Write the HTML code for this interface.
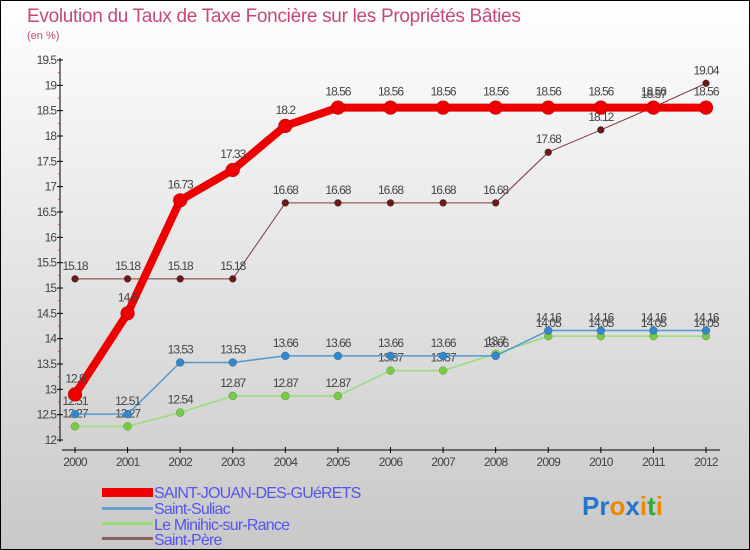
<!DOCTYPE html>
<html><head><meta charset="utf-8"><style>
body{margin:0;width:750px;height:550px;overflow:hidden}
svg{display:block;font-family:"Liberation Sans",sans-serif}
</style></head><body>
<svg width="750" height="550" id="c">
<defs><linearGradient id="bg" x1="0" y1="0" x2="0" y2="1"><stop offset="0" stop-color="#ffffff"/><stop offset="1" stop-color="#c8c8c8"/></linearGradient></defs>
<rect x="0.5" y="0.5" width="749" height="549" fill="url(#bg)" stroke="#000"/>
<text x="27" y="22" font-size="19" fill="#c8477a" letter-spacing="-0.3">Evolution du Taux de Taxe Foncière sur les Propriétés Bâties</text>
<text x="27" y="39" font-size="11" fill="#c8477a">(en %)</text>
<g id="axes"></g><g id="series"></g>
<g>
<rect x="102" y="488" width="51" height="9" fill="#ee0000"/>
<text x="154" y="498" font-size="16" fill="#5555ee" letter-spacing="-0.8">SAINT-JOUAN-DES-GUéRETS</text>
<rect x="102" y="507" width="51" height="3" fill="#6aa0cc"/>
<text x="154" y="514" font-size="16" fill="#5555ee" letter-spacing="-0.8">Saint-Suliac</text>
<rect x="102" y="522" width="51" height="3" fill="#99dd77"/>
<text x="154" y="530" font-size="16" fill="#5555ee" letter-spacing="-0.8">Le Minihic-sur-Rance</text>
<rect x="102" y="537" width="51" height="3" fill="#8b6060"/>
<text x="154" y="545" font-size="16" fill="#5555ee" letter-spacing="-0.8">Saint-Père</text>
</g>
<text x="582" y="515" font-size="26" font-weight="bold"><tspan fill="#2277cc">Pr</tspan><tspan fill="#ee8800">o</tspan><tspan fill="#2277cc">x</tspan><tspan fill="#ee8800">i</tspan><tspan fill="#33aa33">t</tspan><tspan fill="#ee8800">i</tspan></text>
</svg>
<script>
const years=["2000","2001","2002","2003","2004","2005","2006","2007","2008","2009","2010","2011","2012"];
const yTicks=[12,12.5,13,13.5,14,14.5,15,15.5,16,16.5,17,17.5,18,18.5,19,19.5];
const sjValues=[12.9,14.5,16.73,17.33,18.2,18.56,18.56,18.56,18.56,18.56,18.56,18.56,18.56];
const suliacValues=[12.51,12.51,13.53,13.53,13.66,13.66,13.66,13.66,13.66,14.16,14.16,14.16,14.16];
const minihicValues=[12.27,12.27,12.54,12.87,12.87,12.87,13.37,13.37,13.7,14.05,14.05,14.05,14.05];
const pereValues=[15.18,15.18,15.18,15.18,16.68,16.68,16.68,16.68,16.68,17.68,18.12,18.57,19.04];
const NS="http://www.w3.org/2000/svg";
const X=i=>75+i*(706-75)/12, Y=v=>440-(v-12)*(380/7.5);
function mk(t,a,p){const e=document.createElementNS(NS,t);for(const k in a)e.setAttribute(k,a[k]);p.appendChild(e);return e;}
const ax=document.getElementById('axes'),sg=document.getElementById('series');
let yl=mk('line',{x1:60,y1:58,x2:60,y2:442,stroke:'#000'},ax);


for(let v=12;v<=19.5;v+=0.25){const major=Math.abs(v*2-Math.round(v*2))<1e-6;
 mk('line',{x1:major?57:58,y1:Y(v),x2:major?63:60,y2:Y(v),stroke:major?'#000':'#dd3333'},ax);}
yTicks.forEach(v=>{const t=mk('text',{x:56,y:Y(v)+4,'font-size':12,fill:'#444','text-anchor':'end','letter-spacing':'-1'},ax);t.textContent=String(v);
 
 });
let xl=mk('line',{x1:62,y1:450,x2:720,y2:450,stroke:'#000'},ax);


years.forEach((y,i)=>{mk('line',{x1:X(i),y1:447,x2:X(i),y2:453,stroke:'#000'},ax);
 const t=mk('text',{x:X(i),y:466,'font-size':12,fill:'#444','text-anchor':'middle','letter-spacing':'-0.8'},ax);t.textContent=y;
 
 });
function series(vals,name,color,dot,w,r,lab){
 const g=mk('g',{},sg);
 
 
 mk('polyline',{points:vals.map((v,i)=>X(i)+','+Y(v)).join(' '),fill:'none',stroke:color,'stroke-width':w,'stroke-linejoin':'round'},g);
 vals.forEach((v,i)=>{const c=mk('circle',{cx:X(i),cy:Y(v),r:r,fill:dot,stroke:'rgba(0,0,0,0.3)','stroke-width':0.5},g);
  
  
  const t=mk('text',{x:X(i),y:Y(v)-lab,'font-size':12,fill:'#444','text-anchor':'middle','letter-spacing':'-1'},g);t.textContent=String(v);
  
  });
}
series(pereValues,'saint-pere-line','#7a3a3a','#6a1a1a',1,3.5,9);
series(minihicValues,'le-minihic-line','#99dd77','#77cc44',1.5,4,9);
series(suliacValues,'saint-suliac-line','#5599cc','#3388cc',1.5,4,9);
series(sjValues,'saint-jouan-line','#ee0000','#ee0000',8,7,12);
</script>
</body></html>
